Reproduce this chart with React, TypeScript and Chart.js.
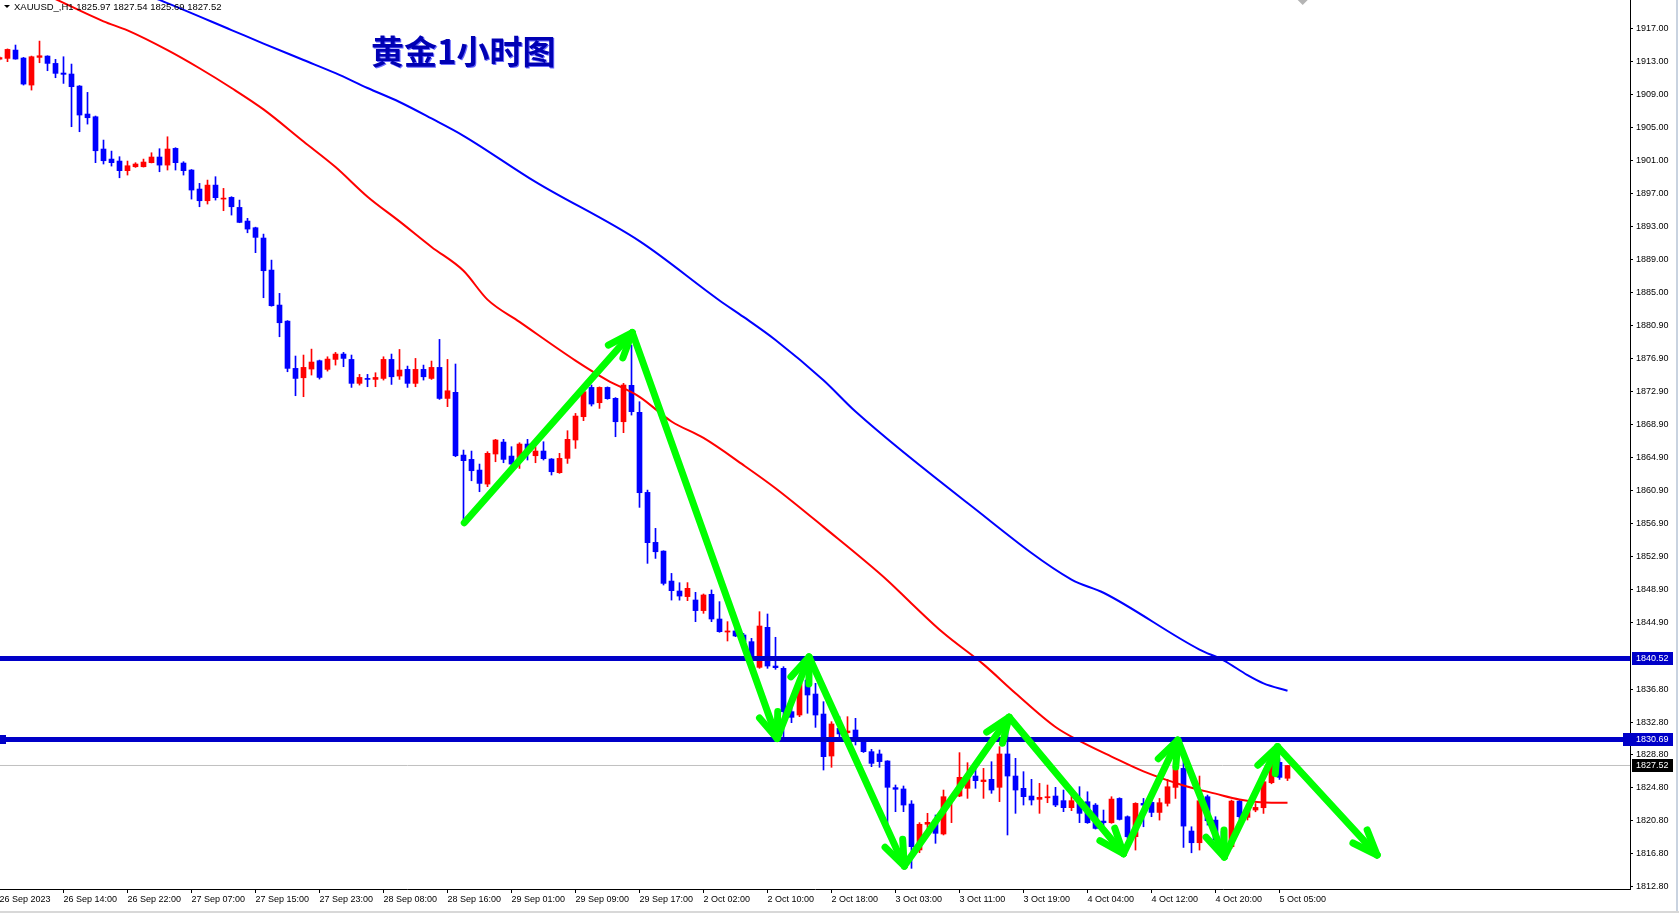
import React, { useEffect, useRef } from 'react';
import { Chart, registerables } from 'chart.js';

Chart.register(...registerables);

// ---------- DATA ----------
const FIRST_BAR = -1; // index of the first (partly visible) bar

const opens = [
  1913.3, 1913.4, 1914.41, 1913.44, 1910.16, 1913.52, 1913.68, 1912.79, 1911.62, 1911.5,
  1910.04, 1906.64, 1906.31, 1902.39, 1901.17, 1900.93, 1899.76, 1900.24, 1900.24, 1900.73,
  1901.42, 1900.44, 1902.47, 1900.69, 1899.84, 1897.53, 1896.11, 1898.01, 1896.31, 1896.52,
  1895.3, 1893.64, 1892.83, 1891.58, 1887.69, 1883.44, 1881.49, 1875.75, 1874.61, 1875.67,
  1876.68, 1875.63, 1876.84, 1877.49, 1876.84, 1873.93, 1874.53, 1874.41, 1874.53, 1876.84,
  1874.82, 1875.63, 1873.93, 1875.63, 1874.53, 1875.87, 1872.1, 1872.84, 1865.22, 1864.7,
  1863.4, 1861.7, 1865.35, 1866.8, 1865.1, 1864.82, 1866.56, 1865.14, 1865.71, 1864.74,
  1863.08, 1864.82, 1867.05, 1869.88, 1873.44, 1871.58, 1873.44, 1872.11, 1869.27, 1873.69,
  1870.41, 1860.69, 1854.62, 1853.56, 1849.92, 1848.71, 1848.03, 1847.62, 1846.33, 1848.31,
  1845.31, 1843.73, 1843.86, 1843.37, 1842.56, 1839.44, 1844.3, 1839.6, 1839.32, 1834.06,
  1833.65, 1837.9, 1836.2, 1833.77, 1828.67, 1832.03, 1831.51, 1831.83, 1830.41, 1829.2,
  1828.92, 1828.07, 1824.83, 1824.67, 1822.84, 1817.26, 1820.38, 1820.9, 1819.2, 1823.33,
  1823.81, 1824.75, 1826.24, 1825.56, 1825.84, 1824.87, 1828.92, 1826.24, 1824.75, 1823.81,
  1823.41, 1823.6, 1823.81, 1823.25, 1822.4, 1823.13, 1823.12, 1822.71, 1820.77, 1820.57,
  1823.52, 1821.3, 1818.87, 1822.92, 1823.04, 1821.82, 1822.92, 1824.86, 1827.17, 1819.56,
  1818.14, 1823.73, 1820.89, 1819.5, 1817.65, 1823.2, 1821.22, 1822.11, 1822.39, 1825.43,
  1827.9, 1825.97,
];
const highs = [
  1913.6, 1914.55, 1915.02, 1913.52, 1913.68, 1915.5, 1913.72, 1913.28, 1913.6, 1912.71,
  1910.1, 1909.27, 1906.4, 1903.48, 1902.14, 1901.46, 1900.93, 1900.73, 1901.17, 1901.94,
  1902.43, 1903.88, 1902.55, 1900.85, 1899.9, 1898.22, 1898.62, 1899.03, 1897.61, 1896.6,
  1896.19, 1893.97, 1892.9, 1892.06, 1888.9, 1884.86, 1881.55, 1877.25, 1877.37, 1878.09,
  1876.76, 1877.16, 1877.69, 1877.69, 1877.37, 1875.02, 1875.02, 1875.22, 1877.16, 1877.49,
  1878.05, 1876.03, 1876.96, 1876.15, 1876.64, 1879.27, 1876.84, 1876.28, 1865.83, 1865.71,
  1864.13, 1865.63, 1867.13, 1867.13, 1866.24, 1866.72, 1867.13, 1866.24, 1866.84, 1864.8,
  1865.43, 1868.18, 1870.28, 1873.44, 1873.73, 1873.5, 1873.5, 1872.2, 1873.93, 1878.58,
  1871.7, 1860.97, 1856.32, 1853.6, 1850.85, 1849.72, 1849.73, 1848.55, 1848.35, 1848.84,
  1847.42, 1844.99, 1844.18, 1843.57, 1842.96, 1846.2, 1845.92, 1843.09, 1839.52, 1834.67,
  1837.9, 1839.04, 1837.5, 1835.27, 1832.84, 1833.45, 1833.45, 1833.25, 1830.5, 1829.48,
  1829.4, 1828.1, 1825.15, 1825.03, 1823.25, 1820.58, 1821.71, 1821.51, 1824.54, 1823.6,
  1829.08, 1827.86, 1827.26, 1827.17, 1827.98, 1829.81, 1833.53, 1828.39, 1826.77, 1825.84,
  1825.35, 1825.15, 1824.87, 1824.54, 1824.14, 1824.95, 1824.33, 1822.9, 1822.11, 1823.73,
  1823.6, 1821.4, 1823.0, 1823.52, 1823.52, 1823.52, 1825.83, 1827.78, 1828.38, 1820.08,
  1826.24, 1823.93, 1821.3, 1820.0, 1823.32, 1823.3, 1822.4, 1822.9, 1825.63, 1828.18,
  1828.38, 1827.54,
];
const lows = [
  1913.2, 1913.0, 1913.3, 1910.16, 1909.55, 1912.87, 1911.9, 1911.05, 1910.36, 1905.1,
  1904.49, 1905.42, 1900.73, 1900.57, 1900.32, 1898.9, 1899.23, 1900.16, 1900.2, 1900.7,
  1899.63, 1899.84, 1899.84, 1899.23, 1896.31, 1895.38, 1895.71, 1896.19, 1894.9, 1894.37,
  1893.44, 1892.22, 1889.8, 1884.33, 1883.3, 1879.59, 1875.34, 1872.43, 1872.31, 1874.94,
  1874.45, 1875.42, 1876.15, 1875.95, 1873.44, 1873.72, 1873.52, 1873.52, 1874.33, 1873.8,
  1874.41, 1873.44, 1873.52, 1874.33, 1874.41, 1871.98, 1871.1, 1865.02, 1857.13, 1862.1,
  1860.77, 1861.38, 1864.41, 1864.29, 1863.73, 1863.6, 1864.62, 1864.29, 1864.62, 1862.8,
  1863.0, 1864.21, 1866.03, 1869.4, 1871.18, 1870.89, 1872.0, 1867.45, 1867.94, 1870.08,
  1858.87, 1852.07, 1852.67, 1849.44, 1847.61, 1847.6, 1847.54, 1844.99, 1846.0, 1844.99,
  1843.7, 1842.64, 1843.17, 1842.4, 1839.93, 1839.32, 1839.32, 1839.2, 1831.02, 1832.72,
  1833.45, 1833.86, 1832.15, 1826.97, 1827.3, 1830.41, 1830.7, 1830.01, 1829.1, 1827.38,
  1827.3, 1820.09, 1821.91, 1821.91, 1815.03, 1816.93, 1819.28, 1818.07, 1819.08, 1820.58,
  1823.73, 1823.53, 1824.75, 1823.53, 1824.14, 1823.13, 1819.08, 1821.71, 1822.72, 1822.72,
  1821.71, 1823.0, 1822.52, 1821.91, 1822.03, 1820.58, 1820.49, 1819.8, 1819.48, 1820.5,
  1820.9, 1818.67, 1817.25, 1820.08, 1821.3, 1820.89, 1822.59, 1823.52, 1817.57, 1816.92,
  1817.25, 1820.28, 1818.26, 1817.0, 1817.45, 1821.0, 1820.9, 1821.9, 1821.7, 1825.3,
  1825.83, 1825.69,
];
const closes = [
  1913.5, 1914.49, 1913.32, 1910.28, 1913.6, 1913.72, 1912.79, 1911.58, 1911.46, 1909.96,
  1906.52, 1906.19, 1902.18, 1900.97, 1900.73, 1899.76, 1900.36, 1900.57, 1900.81, 1901.42,
  1900.44, 1902.39, 1900.73, 1899.76, 1897.41, 1896.11, 1898.01, 1896.48, 1896.39, 1895.38,
  1893.48, 1892.67, 1891.66, 1887.61, 1883.36, 1881.29, 1875.75, 1874.53, 1875.87, 1876.52,
  1874.65, 1876.88, 1877.49, 1876.96, 1873.93, 1874.65, 1874.41, 1874.65, 1876.84, 1874.73,
  1875.55, 1873.93, 1875.63, 1874.73, 1875.87, 1872.1, 1873.03, 1865.14, 1864.54, 1863.32,
  1861.78, 1865.43, 1867.05, 1864.7, 1864.13, 1866.56, 1865.75, 1865.71, 1864.78, 1863.2,
  1864.82, 1867.13, 1869.96, 1872.92, 1871.42, 1873.44, 1872.07, 1869.27, 1873.73, 1870.49,
  1860.65, 1854.58, 1853.48, 1849.64, 1848.75, 1848.1, 1849.04, 1846.33, 1848.23, 1845.31,
  1843.77, 1843.86, 1843.25, 1842.56, 1840.74, 1844.46, 1839.6, 1839.4, 1834.06, 1833.37,
  1837.5, 1836.08, 1833.65, 1828.59, 1832.56, 1831.35, 1831.71, 1830.82, 1829.2, 1827.78,
  1827.99, 1824.87, 1824.63, 1822.72, 1817.66, 1820.38, 1820.62, 1819.28, 1823.73, 1823.53,
  1826.08, 1826.08, 1825.68, 1825.76, 1824.54, 1828.92, 1826.24, 1824.54, 1823.73, 1823.33,
  1823.65, 1823.73, 1822.72, 1822.4, 1823.25, 1821.71, 1820.57, 1819.88, 1820.57, 1823.44,
  1820.97, 1818.87, 1822.92, 1822.71, 1821.82, 1823.0, 1824.94, 1827.05, 1820.16, 1818.14,
  1823.24, 1820.81, 1818.46, 1818.2, 1823.2, 1821.3, 1822.11, 1822.43, 1825.55, 1827.78,
  1826.08, 1827.52,
];

// moving averages (bar index, price)
const redMaBars = [-1, 6, 12, 15, 20, 24, 28, 32, 37, 41, 45, 49, 53, 57, 60, 64, 71, 75, 79, 83, 87, 92, 96, 102, 110, 113, 117, 122, 126, 131, 134, 138, 142, 147, 151, 154, 158, 160];
const redMaValues = [1923.8, 1920.6, 1917.9, 1916.8, 1914.4, 1912.2, 1909.8, 1907.2, 1903.3, 1900.2, 1896.6, 1893.6, 1890.5, 1887.6, 1884.1, 1881.4, 1876.7, 1874.3, 1872.3, 1869.3, 1867.3, 1864.0, 1861.2, 1856.5, 1850.0, 1847.2, 1843.6, 1839.8, 1836.3, 1832.2, 1830.5, 1828.6, 1826.8, 1825.1, 1824.1, 1823.4, 1823.0, 1823.0];
const blueMaBars = [-1, 19, 28, 32, 37, 41, 45, 49, 53, 57, 66, 79, 89, 92, 96, 102, 106, 120, 133, 137, 149, 152, 155, 157, 160];
const blueMaValues = [1928.2, 1920.5, 1916.84, 1915.2, 1913.2, 1911.6, 1909.8, 1908.1, 1906.1, 1904.0, 1898.4, 1891.2, 1884.0, 1882.0, 1879.2, 1874.3, 1870.5, 1859.4, 1850.1, 1848.5, 1841.6, 1840.3, 1838.5, 1837.5, 1836.6];

// hand-drawn green zigzag (bar index, price)
const arrowBars = [57.1, 78.1, 96.2, 100.2, 112.1, 125.2, 139.5, 146.3, 152.1, 158.75, 171.2];
const arrowPrices = [1857.0, 1880.1, 1830.8, 1840.7, 1815.3, 1833.4, 1816.8, 1830.6, 1816.4, 1829.8, 1816.65];

// horizontal levels
const levelPrices = [1840.52, 1830.69];

// axis ticks
const priceTicks = [1917.0, 1913.0, 1909.0, 1905.0, 1901.0, 1897.0, 1893.0, 1889.0, 1885.0, 1880.9, 1876.9, 1872.9, 1868.9, 1864.9, 1860.9, 1856.9, 1852.9, 1848.9, 1844.9, 1836.8, 1832.8, 1828.8, 1824.8, 1820.8, 1816.8, 1812.8];
const timeTickBars = [-1, 7, 15, 23, 31, 39, 47, 55, 63, 71, 79, 87, 95, 103, 111, 119, 127, 135, 143, 151, 159];
const timeTickLabels = ['26 Sep 2023', '26 Sep 14:00', '26 Sep 22:00', '27 Sep 07:00', '27 Sep 15:00', '27 Sep 23:00', '28 Sep 08:00', '28 Sep 16:00', '29 Sep 01:00', '29 Sep 09:00', '29 Sep 17:00', '2 Oct 02:00', '2 Oct 10:00', '2 Oct 18:00', '3 Oct 03:00', '3 Oct 11:00', '3 Oct 19:00', '4 Oct 04:00', '4 Oct 12:00', '4 Oct 20:00', '5 Oct 05:00'];

const SYMBOL_TEXT = 'XAUUSD_,H1';
const TITLE_TEXT = '黄金1小时图';

// ---------- LAYOUT / STYLE ----------
const W = 1679;
const H = 913;
const X_MIN = -0.9375;
const X_MAX = 202.8125;
const Y_MIN = 1812.52;
const Y_MAX = 1920.49;
const SHIFT_MARK_BAR = 161.9;
const UP = '#ff0000';
const DOWN = '#0000ff';
const GREEN = '#00ff00';
const LEVEL_BLUE = '#0000c8';
const FONT = '"Liberation Sans", Arial, sans-serif';

const overlay = {
  id: 'mtOverlay',
  afterDatasetsDraw(chart: any) {
    const ctx = chart.ctx;
    const meta = chart.getDatasetMeta(0);
    const pts = meta.data;
    ctx.save();
    const a = chart.chartArea;
    ctx.beginPath();
    ctx.rect(a.left, a.top, a.right - a.left, a.bottom - a.top);
    ctx.clip();
    ctx.strokeStyle = GREEN;
    ctx.lineWidth = 7;
    ctx.lineCap = 'round';
    const len = 27;
    const ang = (21 * Math.PI) / 180;
    for (let i = 1; i < pts.length; i++) {
      const p = pts[i - 1];
      const q = pts[i];
      const t = Math.atan2(q.y - p.y, q.x - p.x) + Math.PI;
      for (const s of [-1, 1]) {
        ctx.beginPath();
        ctx.moveTo(q.x, q.y);
        ctx.lineTo(q.x + len * Math.cos(t + s * ang), q.y + len * Math.sin(t + s * ang));
        ctx.stroke();
      }
    }
    ctx.restore();
  },
  afterDraw(chart: any) {
    const ctx = chart.ctx;
    const a = chart.chartArea;
    const ys = chart.scales.y;
    const xs = chart.scales.x;
    ctx.save();
    // header
    ctx.fillStyle = '#000';
    ctx.beginPath();
    ctx.moveTo(4, 5);
    ctx.lineTo(10, 5);
    ctx.lineTo(7, 8);
    ctx.closePath();
    ctx.fill();
    ctx.font = '9.5px ' + FONT;
    ctx.textBaseline = 'alphabetic';
    ctx.textAlign = 'left';
    const n = closes.length - 1;
    const hdr = [SYMBOL_TEXT, opens[n].toFixed(2), highs[n].toFixed(2), lows[n].toFixed(2), closes[n].toFixed(2)].join(' ');
    ctx.fillText(hdr, 14, 10);
    // title
    ctx.font = 'bold 33px "Noto Sans CJK SC", sans-serif';
    ctx.fillStyle = '#6a6aff';
    ctx.fillText(TITLE_TEXT, 372, 65);
    ctx.fillStyle = '#0000b4';
    ctx.fillText(TITLE_TEXT, 371, 64);
    // chart shift marker
    const sx = xs.getPixelForValue(SHIFT_MARK_BAR);
    ctx.fillStyle = '#b4b4b4';
    ctx.beginPath();
    ctx.moveTo(sx - 5, 0);
    ctx.lineTo(sx + 5, 0);
    ctx.lineTo(sx, 5);
    ctx.closePath();
    ctx.fill();
    // price boxes on the axis
    ctx.font = '9px ' + FONT;
    ctx.textBaseline = 'middle';
    const boxes = [
      { v: levelPrices[0], bg: LEVEL_BLUE, x0: a.right + 2 },
      { v: levelPrices[1], bg: LEVEL_BLUE, x0: a.right - 7 },
      { v: closes[n], bg: '#000000', x0: a.right + 2 },
    ];
    for (const b of boxes) {
      const y = Math.round(ys.getPixelForValue(b.v));
      ctx.fillStyle = b.bg;
      ctx.fillRect(b.x0, y - 6, a.right + 43 - b.x0, 13);
      ctx.fillStyle = '#fff';
      ctx.fillText(b.v.toFixed(2), a.right + 6, y + 0.5);
    }
    // selection marker at the left of the lower level
    const yl = Math.round(ys.getPixelForValue(levelPrices[1]));
    ctx.fillStyle = LEVEL_BLUE;
    ctx.fillRect(0, yl - 4, 6, 9);
    // window frame
    ctx.fillStyle = '#c9d3e0';
    ctx.fillRect(W - 3, 0, 2, H);
    ctx.fillStyle = '#d8d8d8';
    ctx.fillRect(0, H - 2, W, 2);
    ctx.restore();
  },
};

function buildConfig(): any {
  const firstBars = closes.map((_, i) => FIRST_BAR + i);
  const isUp = (i: number) => closes[i] >= opens[i];
  const colorOf = (c: any) => (isUp(c.dataIndex) ? UP : DOWN);
  const lastClose = closes[closes.length - 1];
  return {
    type: 'bar',
    data: {
      datasets: [
        {
          type: 'line',
          label: 'arrows',
          order: 0,
          data: arrowBars.map((x, i) => ({ x, y: arrowPrices[i] })),
          borderColor: GREEN,
          borderWidth: 7,
          borderCapStyle: 'round',
          borderJoinStyle: 'round',
          pointRadius: 0,
          tension: 0,
        },
        ...levelPrices.map((lv) => ({
          type: 'line',
          label: 'level',
          order: 1,
          data: [
            { x: X_MIN, y: lv },
            { x: X_MAX, y: lv },
          ],
          borderColor: LEVEL_BLUE,
          borderWidth: 5,
          pointRadius: 0,
        })),
        {
          type: 'line',
          label: 'ma-slow',
          order: 2,
          data: blueMaBars.map((x, i) => ({ x, y: blueMaValues[i] })),
          borderColor: '#0000ff',
          borderWidth: 2,
          pointRadius: 0,
          cubicInterpolationMode: 'monotone',
        },
        {
          type: 'line',
          label: 'ma-fast',
          order: 2,
          data: redMaBars.map((x, i) => ({ x, y: redMaValues[i] })),
          borderColor: '#ff0000',
          borderWidth: 2,
          pointRadius: 0,
          cubicInterpolationMode: 'monotone',
        },
        {
          type: 'bar',
          label: 'body',
          order: 3,
          data: firstBars.map((x, i) => ({ x, y: [opens[i], closes[i]] })),
          backgroundColor: colorOf,
          borderWidth: 0,
          barThickness: 5,
          maxBarThickness: 5,
          minBarLength: 1,
          grouped: false,
        },
        {
          type: 'bar',
          label: 'wick',
          order: 4,
          data: firstBars.map((x, i) => ({ x, y: [lows[i], highs[i]] })),
          backgroundColor: colorOf,
          borderWidth: 0,
          barThickness: 1,
          maxBarThickness: 1,
          minBarLength: 1,
          grouped: false,
        },
        {
          type: 'line',
          label: 'bid',
          order: 5,
          data: [
            { x: X_MIN, y: lastClose },
            { x: X_MAX, y: lastClose },
          ],
          borderColor: '#c0c0c0',
          borderWidth: 1,
          pointRadius: 0,
        },
      ],
    },
    options: {
      responsive: false,
      animation: false,
      devicePixelRatio: 1,
      events: [],
      layout: { padding: 0 },
      plugins: { legend: { display: false }, tooltip: { enabled: false }, title: { display: false } },
      scales: {
        x: {
          type: 'linear',
          min: X_MIN,
          max: X_MAX,
          bounds: 'data',
          offset: false,
          grid: { display: true, drawOnChartArea: false, drawTicks: true, tickLength: 4, color: '#000', offset: false },
          border: { display: true, color: '#000', width: 1 },
          ticks: {
            autoSkip: false,
            maxRotation: 0,
            minRotation: 0,
            align: 'start',
            labelOffset: 0,
            padding: 1,
            color: '#000',
            font: { size: 9, family: FONT },
            callback: (_v: any, i: number) => timeTickLabels[i] ?? '',
          },
          afterBuildTicks: (s: any) => {
            s.ticks = timeTickBars.map((v) => ({ value: v }));
          },
          afterFit: (s: any) => {
            s.height = 24;
            s.paddingLeft = 0;
            s.paddingRight = 0;
          },
        },
        y: {
          type: 'linear',
          position: 'right',
          min: Y_MIN,
          max: Y_MAX,
          bounds: 'data',
          grid: { display: true, drawOnChartArea: false, drawTicks: true, tickLength: 3, color: '#000' },
          border: { display: true, color: '#000', width: 1 },
          ticks: {
            autoSkip: false,
            padding: 3,
            color: '#000',
            font: { size: 9, family: FONT },
            callback: (v: any) => Number(v).toFixed(2),
          },
          afterBuildTicks: (s: any) => {
            s.ticks = priceTicks.map((v) => ({ value: v }));
          },
          afterFit: (s: any) => {
            s.width = 49;
            s.paddingTop = 0;
            s.paddingBottom = 0;
          },
        },
      },
    },
    plugins: [overlay],
  };
}

export default function App() {
  const ref = useRef<HTMLCanvasElement | null>(null);
  useEffect(() => {
    document.body.style.margin = '0';
    const chart = new Chart(ref.current as HTMLCanvasElement, buildConfig());
    return () => chart.destroy();
  }, []);
  return (
    <div style={{ position: 'fixed', left: 0, top: 0, width: W, height: H, background: '#ffffff' }}>
      <canvas ref={ref} width={W} height={H} style={{ display: 'block', width: W, height: H }} />
    </div>
  );
}
